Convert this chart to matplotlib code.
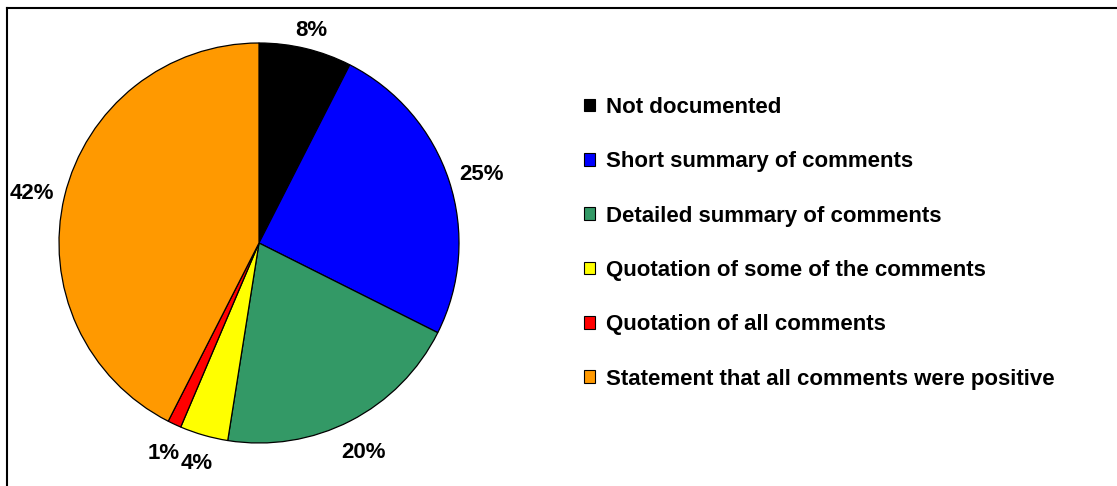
import numpy as np
import matplotlib.pyplot as plt
from matplotlib.patches import Patch
from matplotlib.lines import Line2D

# Data
categories = ['Not documented',
              'Short summary of comments',
              'Detailed summary of comments',
              'Quotation of some of the comments',
              'Quotation of all comments',
              'Statement that all comments were positive']
shares = [7.5, 24.9, 20.1, 3.9, 1.1, 42.5]        # slice sizes measured from the wedges
pct_labels = ['8%', '25%', '20%', '4%', '1%', '42%']  # labels as printed
colors = ['#000000', '#0000FF', '#339966', '#FFFF00', '#FF0000', '#FF9900']

plt.rcParams['font.family'] = ['Liberation Sans', 'DejaVu Sans']

W, H = 1117, 486
fig = plt.figure(figsize=(W / 100, H / 100), dpi=100)

# pie axes sits exactly on the circle (center 259,243 px, radius 200 px)
ax = fig.add_axes([59 / W, 43 / H, 400 / W, 400 / H])
wedges, _ = ax.pie(shares, colors=colors, startangle=90, counterclock=False,
                   wedgeprops=dict(edgecolor='black', linewidth=0.9))
ax.set_xlim(-1, 1)
ax.set_ylim(-1, 1)
ax.set_aspect('equal')

# percent labels just outside the rim, pushed out by their own size
texts = [ax.text(0, 0, s, ha='center', va='center', fontsize=16,
                 fontweight='bold') for s in pct_labels]
fig.canvas.draw()
R_px = 200.0
gap = 10.0
cx, cy = ax.transData.transform((0, 0))
for w, t in zip(wedges, texts):
    ang = np.deg2rad((w.theta1 + w.theta2) / 2)
    bb = t.get_window_extent()
    c, s = np.cos(ang), np.sin(ang)
    d = R_px + gap + abs(bb.width / 2 * c) + abs(bb.height / 2 * s)
    # small downward nudge: text box centre sits above the glyph centre
    t.set_position(ax.transData.inverted().transform((cx + d * c, cy + d * s - 5)))

# legend on the right
handles = [Patch(facecolor=c, edgecolor='black', linewidth=0.8) for c in colors]
fig.legend(handles, categories, loc='upper left',
           bbox_to_anchor=(584 / W, 1 - 97 / H), frameon=False,
           prop=dict(size=16, weight='bold'),
           handlelength=0.5, handleheight=0.5, handletextpad=0.5,
           labelspacing=1.5, borderpad=0, borderaxespad=0)

# frame lines on top and left only
fig.add_artist(Line2D([7 / W, 1], [1 - 8 / H, 1 - 8 / H], color='black', linewidth=1.5))
fig.add_artist(Line2D([7 / W, 7 / W], [0, 1 - 8 / H], color='black', linewidth=1.5))

fig.savefig('out.png', dpi=100)
